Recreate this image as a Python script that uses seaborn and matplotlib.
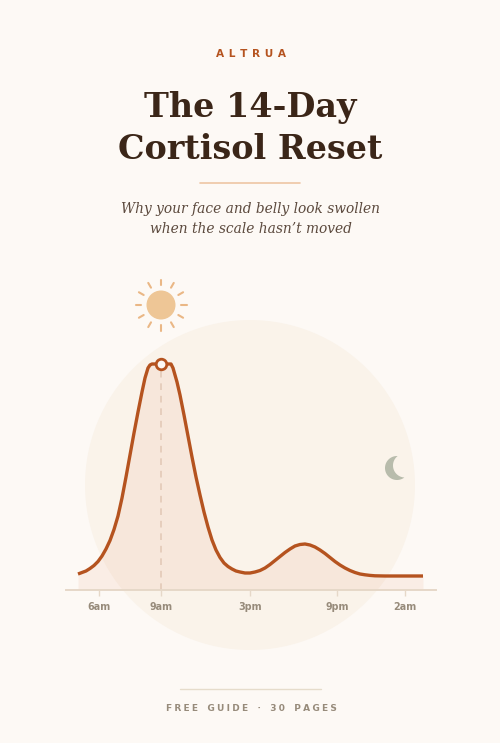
import matplotlib
matplotlib.use('Agg')
import matplotlib.pyplot as plt
import numpy as np
import pandas as pd
import seaborn as sns
from matplotlib.patches import Circle, Polygon

# Curve: position along the day axis and cortisol level
day_pos = [78, 82, 86, 90, 94, 98, 102, 106, 110, 114, 118, 122, 126, 130, 134, 138, 142,
           145, 148, 150, 152, 156, 161, 166, 171, 173, 175, 177, 180, 184, 188, 192,
           196, 200, 204, 208, 212, 216, 220, 224, 228, 232, 236, 240, 245, 250, 255,
           260, 265, 270, 275, 280, 285, 290, 295, 300, 305, 310, 315, 320, 325, 330,
           335, 340, 345, 350, 355, 360, 365, 370, 375, 385, 400, 423]
level = [16, 17.5, 19, 21.5, 24.5, 28.5, 34, 41, 49.5, 60.5, 74, 92, 113, 135, 157, 178, 198,
         212, 222, 225, 226, 226, 226, 226, 226, 222, 215, 208, 195, 175, 154, 133,
         113, 95, 78, 63, 50, 40, 32.5, 27, 23.5, 21, 19, 18, 17, 17, 18,
         19.5, 22, 25.5, 29.5, 33.5, 37.5, 41, 44, 45.5, 46, 45, 43, 40, 36.5, 32.5,
         28.5, 25, 22, 19.5, 17.5, 16, 15.2, 14.6, 14.2, 14, 14, 14]
tick_pos = [99, 161, 250, 337, 405]
tick_labels = ['6am', '9am', '3pm', '9pm', '2am']
peak_pos = 161
peak_level = 226

W, H = 500, 743
BG = '#fdf9f5'
CIRCLE = '#faf3ea'
RUST = '#b5531f'
DARK = '#3b2618'
SUN = '#eec696'

sns.set_theme(style='white', rc={'figure.facecolor': BG, 'axes.facecolor': 'none'})
plt.rcParams['font.family'] = ['DejaVu Sans']

fig = plt.figure(figsize=(W / 100, H / 100), dpi=100)

# page layer in pixel units for the decoration
page = fig.add_axes([0, 0, 1, 1])
page.set_xlim(0, W)
page.set_ylim(H, 0)
page.axis('off')

page.add_patch(Circle((250, 485), 165, color=CIRCLE, lw=0))

# sun
page.add_patch(Circle((161, 305), 14.5, color=SUN, lw=0))
for ang in np.arange(0, 360, 30):
    a = np.deg2rad(ang)
    page.plot([161 + 20 * np.cos(a), 161 + 25.5 * np.cos(a)],
              [305 + 20 * np.sin(a), 305 + 25.5 * np.sin(a)],
              color='#eab785', lw=1.5, solid_capstyle='round')

# moon: outer arc of one disc, back along the inner arc of a second disc
t = np.deg2rad(np.linspace(0, 360, 721))
outer = np.c_[397 + 12 * np.cos(t), 468 + 12 * np.sin(t)]
inner = np.c_[405 + 12 * np.cos(t), 465.5 + 12 * np.sin(t)]
outer = outer[np.hypot(outer[:, 0] - 405, outer[:, 1] - 465.5) >= 12]
inner = inner[np.hypot(inner[:, 0] - 397, inner[:, 1] - 468) <= 12]
# start both arcs at the lower horn
outer = outer[np.argsort(np.arctan2(outer[:, 1] - 468, outer[:, 0] - 397) % (2 * np.pi))]
inner = inner[np.argsort(np.arctan2(inner[:, 1] - 465.5, inner[:, 0] - 405) % (2 * np.pi))][::-1]
page.add_patch(Polygon(np.r_[outer, inner], closed=True, color='#b8bcac', lw=0))

page.text(250.5, 54, 'A \u200aL \u200aT \u200aR \u200aU \u200aA', ha='center', va='center',
          fontsize=7.6, fontweight='bold', color=RUST)
page.text(250, 128.5, 'The 14-Day\nCortisol Reset', ha='center', va='center',
          family='DejaVu Serif', fontweight='bold', fontsize=24, color=DARK,
          linespacing=1.32)
page.plot([200, 300], [182.5, 182.5], color='#eec6a4', lw=1.2)
page.text(250.5, 219, 'Why your face and belly look swollen\nwhen the scale hasn\u2019t moved',
          ha='center', va='center', family='DejaVu Serif', style='italic',
          fontsize=9.95, color='#5c4a3e', linespacing=1.5)
page.plot([180, 321], [688.5, 688.5], color='#e6dccb', lw=1)
page.text(251.5, 708.5,
          'F\u2005R\u2005E\u2005E   G\u2005U\u2005I\u2005D\u2005E   \u00b7   3\u20050   P\u2005A\u2005G\u2005E\u2005S',
          ha='center', va='center', fontsize=6.5, fontweight='bold', color='#978b7b')

# chart axes: x in day position, y is level above the baseline
left, right, top, base = 66, 436, 340, 590
ax = fig.add_axes([left / W, 1 - base / H, (right - left) / W, (base - top) / H])
ax.set_xlim(left, right)
ax.set_ylim(0, base - top)

df = pd.DataFrame({'day_pos': day_pos, 'level': level})
ax.fill_between(df['day_pos'], df['level'], 0, color='#d9622b', alpha=0.08, lw=0)
ax.plot([peak_pos, peak_pos], [0, peak_level], color='#e3c9b8', lw=1.2, ls=(0, (4, 3.5)))
sns.lineplot(data=df, x='day_pos', y='level', color=RUST, lw=2.4, sort=False,
             errorbar=None, ax=ax, solid_joinstyle='round', solid_capstyle='butt')
sns.scatterplot(x=[peak_pos], y=[peak_level], s=58, color=BG, edgecolor=RUST,
                linewidth=2, zorder=5, ax=ax, clip_on=False)

sns.despine(ax=ax, left=True)
ax.spines['bottom'].set_color('#e6d8c8')
ax.spines['bottom'].set_linewidth(1.4)
ax.set_yticks([])
ax.set_xticks(tick_pos)
ax.set_xticklabels(tick_labels, fontsize=6.9, fontweight='bold', color='#978b7b')
ax.tick_params(axis='x', length=4, width=1, color='#e6d8c8', pad=5, bottom=True)
ax.set_xlabel('')
ax.set_ylabel('')

fig.savefig('out.png', dpi=100, facecolor=BG)
